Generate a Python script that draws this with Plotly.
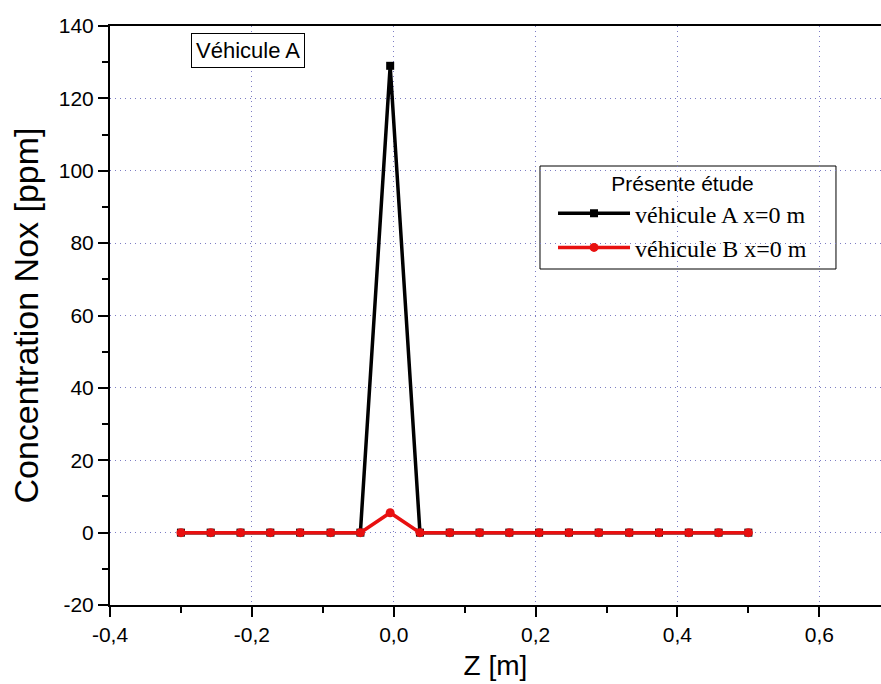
import plotly.graph_objects as go

# Positions along Z [m]
z_vals = [-0.300, -0.258, -0.216, -0.174, -0.132, -0.089, -0.047, -0.005,
          0.037, 0.079, 0.121, 0.163, 0.205, 0.247, 0.289, 0.332,
          0.374, 0.416, 0.458, 0.500]

# NOx concentration [ppm]
nox_vehicule_a = [0, 0, 0, 0, 0, 0, 0, 129, 0, 0, 0, 0, 0, 0, 0, 0, 0, 0, 0, 0]
nox_vehicule_b = [0, 0, 0, 0, 0, 0, 0, 5.5, 0, 0, 0, 0, 0, 0, 0, 0, 0, 0, 0, 0]

x_tickvals = [-0.4, -0.2, 0.0, 0.2, 0.4, 0.6]
x_ticktext = ["-0,4", "-0,2", "0,0", "0,2", "0,4", "0,6"]
y_tickvals = [-20, 0, 20, 40, 60, 80, 100, 120, 140]
y_ticktext = ["-20", "0", "20", "40", "60", "80", "100", "120", "140"]

fig = go.Figure()
fig.add_trace(go.Scatter(
    x=z_vals, y=nox_vehicule_a, mode="lines+markers",
    name="véhicule A x=0 m",
    line=dict(color="black", width=3.5),
    marker=dict(symbol="square", size=8, color="black"),
))
fig.add_trace(go.Scatter(
    x=z_vals, y=nox_vehicule_b, mode="lines+markers",
    name="véhicule B x=0 m",
    line=dict(color="#e81010", width=3.5),
    marker=dict(symbol="circle", size=9, color="#e81010"),
))

grid_color = "#7c7cc4"
sans = "Liberation Sans, Arial, sans-serif"
tick_size = 21

fig.update_layout(
    width=881, height=684,
    margin=dict(l=110, r=0, t=26, b=79),
    paper_bgcolor="white", plot_bgcolor="white",
    font=dict(family=sans, size=tick_size, color="black"),
    showlegend=True,
    legend=dict(
        x=0.5746, y=0.762, xanchor="left", yanchor="top",
        borderwidth=0, bgcolor="rgba(0,0,0,0)",
        title=dict(text="Présente étude", side="top center",
                   font=dict(family=sans, size=21, color="black")),
        font=dict(family="Liberation Serif, Times New Roman, serif", size=24, color="black"),
        itemwidth=72, tracegroupgap=0,
    ),
    xaxis=dict(
        range=[-0.4, 0.687],
        tickmode="array", tickvals=x_tickvals, ticktext=x_ticktext,
        ticks="outside", ticklen=10, tickwidth=2, tickcolor="black",
        minor=dict(dtick=0.1, tick0=0, ticks="outside", ticklen=6, tickwidth=2,
                   tickcolor="black", showgrid=False),
        showline=True, linewidth=2, linecolor="black", mirror=True,
        showgrid=True, gridcolor=grid_color, griddash="1px,4px", gridwidth=1,
        zeroline=False, automargin=False,
        tickfont=dict(family=sans, size=tick_size, color="black"),
        title=dict(text="Z [m]", standoff=10,
                   font=dict(family=sans, size=28, color="black")),
    ),
    yaxis=dict(
        range=[-20, 140],
        tickmode="array", tickvals=y_tickvals, ticktext=y_ticktext,
        ticks="outside", ticklen=10, tickwidth=2, tickcolor="black",
        minor=dict(dtick=10, tick0=0, ticks="outside", ticklen=6, tickwidth=2,
                   tickcolor="black", showgrid=False),
        showline=True, linewidth=2, linecolor="black",
        showgrid=True, gridcolor=grid_color, griddash="1px,4px", gridwidth=1,
        zeroline=False, automargin=False,
        tickfont=dict(family=sans, size=tick_size, color="black"),
        title=dict(text="Concentration Nox [ppm]", standoff=10,
                   font=dict(family=sans, size=34, color="black")),
    ),
    shapes=[dict(
        type="rect", xref="paper", yref="paper",
        x0=0.5577, x1=0.9416, y0=0.5803, y1=0.7582,
        line=dict(color="black", width=1), fillcolor="white", layer="below",
    )],
    annotations=[dict(
        text="Véhicule A", x=0.179, y=0.957, xref="paper", yref="paper",
        xanchor="center", yanchor="middle", showarrow=False,
        font=dict(family=sans, size=22, color="black"),
        bordercolor="black", borderwidth=1, borderpad=4, bgcolor="white",
    )],
)

fig.write_html("out.html")
